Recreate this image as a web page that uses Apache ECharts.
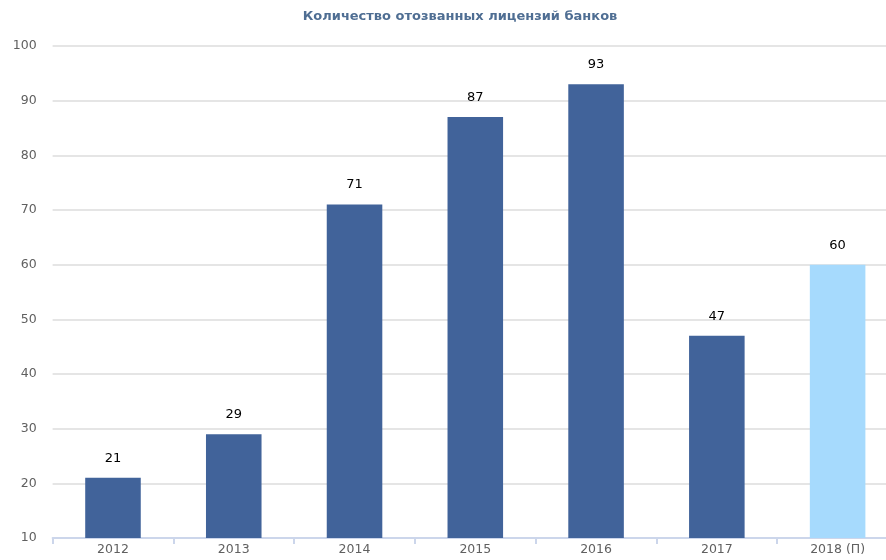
<!DOCTYPE html>
<html><head><meta charset="utf-8">
<script src="https://cdn.jsdelivr.net/npm/echarts@6/dist/echarts.min.js"></script>
<style>html,body{margin:0;padding:0;background:#fff}#c{width:886px;height:560px}</style>
</head><body><div id="c"></div>
<script>
const categories = ['2012','2013','2014','2015','2016','2017','2018 (П)'];
const values = [21, 29, 71, 87, 93, 47, 60];
const barColors = ['#41639A','#41639A','#41639A','#41639A','#41639A','#41639A','#A6DAFD'];
const titleText = 'Количество отозванных лицензий банков';

const chart = echarts.init(document.getElementById('c'), null, {renderer:'canvas'});
chart.setOption({
  animation:false,
  title:{text:titleText, left:455, top:5, textAlign:'center',
    textStyle:{fontFamily:'DejaVu Sans', fontSize:13, fontWeight:'bold', color:'#4F6E93'}},
  grid:{outerBoundsMode:'none', left:52.6, right:-12, top:46, bottom:22, containLabel:false},
  xAxis:{type:'category', data:categories,
    axisLine:{lineStyle:{color:'#CCD6EB', width:2}},
    axisTick:{show:true, length:6, lineStyle:{color:'#CCD6EB', width:2}},
    axisLabel:{color:'#606060', fontFamily:'DejaVu Sans', fontSize:12.5, margin:5}},
  yAxis:{type:'value', min:10, max:100, interval:10,
    axisLine:{show:false}, axisTick:{show:false},
    splitLine:{lineStyle:{color:'#DDDDDD', width:1.5}},
    axisLabel:{color:'#606060', fontFamily:'DejaVu Sans', fontSize:12.5, margin:16}},
  series:[{type:'bar', barWidth:'46%',
    data: values.map((v,i)=>({value:v, itemStyle:{color:barColors[i]}})),
    label:{show:true, position:'top', distance:13, color:'#000', fontFamily:'DejaVu Sans', fontSize:13}}]
});
</script></body></html>
